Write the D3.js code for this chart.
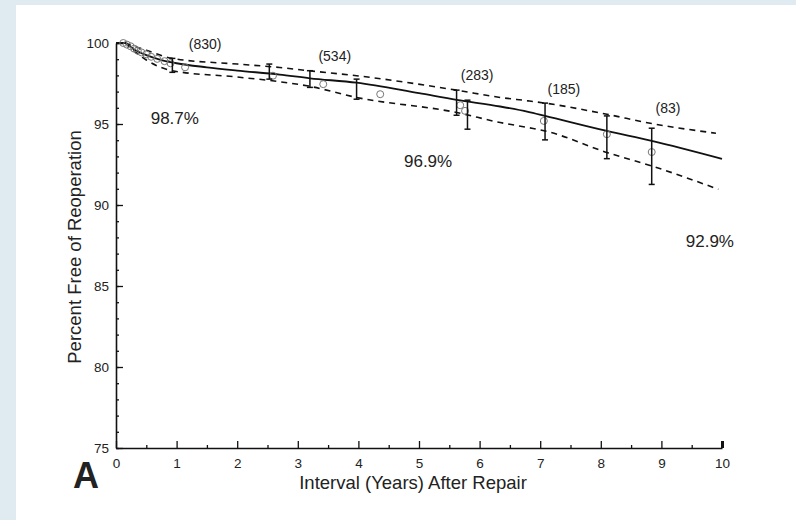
<!DOCTYPE html>
<html>
<head>
<meta charset="utf-8">
<script src="https://cdn.jsdelivr.net/npm/d3@7"></script>
<style>
    body { margin: 0; background: #e0ebf1; }
    svg { display: block; }
    text { font-family: "Liberation Sans", Arial, sans-serif; fill: #222; }
</style>
</head>
<body>
<svg id="chart" width="796" height="520"></svg>
<script>
// estimate curve and its confidence limits (years, percent)
const estimate = [[0, 100], [0.15, 100], [0.3, 99.6], [0.5, 99.25], [0.75, 98.95], [1, 98.75],
    [1.5, 98.5], [2, 98.3], [2.7, 98.05], [3.2, 97.82], [3.97, 97.55], [5, 96.9], [5.62, 96.49],
    [6.34, 96.08], [6.8, 95.75], [7.08, 95.5], [8.1, 94.57], [8.84, 93.96], [10, 92.85]];
const upperLimit = [[0.15, 100], [0.5, 99.55], [0.93, 99.05], [2, 98.7], [2.7, 98.49], [3.15, 98.3],
    [3.97, 97.98], [5.62, 97.09], [6.34, 96.64], [6.8, 96.43], [7.08, 96.29], [8.1, 95.6],
    [8.84, 95.03], [9.9, 94.43]];
const lowerLimit = [[0.15, 100], [0.5, 98.95], [0.93, 98.29], [2, 97.9], [2.7, 97.61], [3.15, 97.36],
    [3.97, 96.64], [5.62, 95.71], [6.34, 95.09], [6.8, 94.78], [7.08, 94.57], [8.1, 93.24],
    [8.84, 92.41], [9.94, 90.97]];

// observed events
const observed = [[0.12, 100], [0.18, 99.9], [0.24, 99.8], [0.3, 99.65], [0.36, 99.52], [0.42, 99.42],
    [0.5, 99.3], [0.58, 99.15], [0.68, 99.02], [0.8, 98.88], [0.9, 98.75], [1.14, 98.5],
    [2.59, 97.98], [3.42, 97.46], [4.36, 96.84], [5.68, 96.16], [5.76, 95.81], [7.06, 95.19],
    [8.1, 94.37], [8.84, 93.27]];
const errorBars = [[0.93, 98.19, 99.05], [2.53, 97.77, 98.7], [3.2, 97.26, 98.29], [3.97, 96.53, 97.77],
    [5.62, 95.54, 97.09], [5.8, 94.68, 96.47], [7.08, 94.02, 96.29], [8.1, 92.86, 95.5],
    [8.84, 91.27, 94.74]];

// patients at risk and survival labels
const atRisk = [[1.47, 99.63, "(830)"], [3.61, 98.89, "(534)"], [5.96, 97.73, "(283)"],
    [7.39, 96.84, "(185)"], [9.11, 95.67, "(83)"]];
const percentLabels = [[0.97, 94.99, "98.7%"], [5.15, 92.37, "96.9%"], [9.8, 87.38, "92.9%"]];

const yMajor = [75, 80, 85, 90, 95, 100];
const yMinor = d3.range(75, 101, 1);
const xMajor = d3.range(0, 11, 1);
const xMinor = d3.range(0.5, 10, 1);

const svg = d3.select("#chart");

svg.append("rect")
    .attr("x", 16).attr("y", 5)
    .attr("width", 780).attr("height", 515)
    .attr("fill", "#fff");

const x = d3.scaleLinear().domain([0, 10]).range([116, 722]);
const y = d3.scaleLinear().domain([75, 100]).range([448, 43]);

// axes
const yAxis = svg.append("g")
    .attr("transform", "translate(" + x(0) + ",0)")
    .call(d3.axisLeft(y).tickValues(yMajor).tickSizeInner(-7).tickSizeOuter(0).tickPadding(7));
svg.append("g")
    .attr("transform", "translate(" + x(0) + ",0)")
    .call(d3.axisLeft(y).tickValues(yMinor).tickSizeInner(-3).tickSizeOuter(0).tickFormat(""))
    .select(".domain").remove();

const xAxis = svg.append("g")
    .attr("transform", "translate(0," + y(75) + ")")
    .call(d3.axisBottom(x).tickValues(xMajor).tickSizeInner(-7).tickSizeOuter(0).tickPadding(10));
svg.append("g")
    .attr("transform", "translate(0," + y(75) + ")")
    .call(d3.axisBottom(x).tickValues(xMinor).tickSizeInner(-3).tickSizeOuter(0).tickFormat(""))
    .select(".domain").remove();

svg.selectAll(".domain").attr("stroke", "#111").attr("stroke-width", 1.6);
svg.selectAll(".tick line").attr("stroke", "#111").attr("stroke-width", 1.3);
svg.selectAll(".tick text").style("font-size", "13.5px").attr("fill", "#222");
yAxis.selectAll(".tick text").attr("dy", "0.35em");

// thick end tick at 10 years
xAxis.selectAll(".tick").filter(function(d) { return d === 10; })
    .select("line").attr("stroke-width", 3);
yAxis.selectAll(".tick").filter(function(d) { return d === 100; })
    .select("line").attr("stroke-width", 1.6);

// curves
const line = d3.line()
    .x(function(d) { return x(d[0]); })
    .y(function(d) { return y(d[1]); })
    .curve(d3.curveMonotoneX);

svg.append("path")
    .datum(upperLimit)
    .attr("d", line)
    .attr("fill", "none")
    .attr("stroke", "#111")
    .attr("stroke-width", 1.6)
    .attr("stroke-dasharray", "6,5");

svg.append("path")
    .datum(lowerLimit)
    .attr("d", line)
    .attr("fill", "none")
    .attr("stroke", "#111")
    .attr("stroke-width", 1.6)
    .attr("stroke-dasharray", "6,5");

svg.append("path")
    .datum(estimate)
    .attr("d", line)
    .attr("fill", "none")
    .attr("stroke", "#111")
    .attr("stroke-width", 1.8);

// observed points
svg.append("g").selectAll("circle")
    .data(observed)
    .join("circle")
    .attr("cx", function(d) { return x(d[0]); })
    .attr("cy", function(d) { return y(d[1]); })
    .attr("r", 3.5)
    .attr("fill", "none")
    .attr("stroke", "#777")
    .attr("stroke-width", 1);

// error bars
const bars = svg.append("g")
    .attr("stroke", "#111")
    .attr("stroke-width", 1.5);

errorBars.forEach(function(b) {
    const bx = x(b[0]);
    bars.append("line")
        .attr("x1", bx).attr("x2", bx)
        .attr("y1", y(b[1])).attr("y2", y(b[2]));
    bars.append("line")
        .attr("x1", bx - 3).attr("x2", bx + 3)
        .attr("y1", y(b[1])).attr("y2", y(b[1]));
    bars.append("line")
        .attr("x1", bx - 3).attr("x2", bx + 3)
        .attr("y1", y(b[2])).attr("y2", y(b[2]));
});

// annotations
svg.append("g").selectAll("text")
    .data(atRisk)
    .join("text")
    .attr("x", function(d) { return x(d[0]); })
    .attr("y", function(d) { return y(d[1]); })
    .attr("text-anchor", "middle")
    .style("font-size", "14px")
    .text(function(d) { return d[2]; });

svg.append("g").selectAll("text")
    .data(percentLabels)
    .join("text")
    .attr("x", function(d) { return x(d[0]); })
    .attr("y", function(d) { return y(d[1]); })
    .attr("text-anchor", "middle")
    .style("font-size", "17px")
    .text(function(d) { return d[2]; });

// titles
svg.append("text")
    .attr("x", 413)
    .attr("y", 489)
    .attr("text-anchor", "middle")
    .style("font-size", "18.5px")
    .text("Interval (Years) After Repair");

svg.append("text")
    .attr("transform", "translate(81,247) rotate(-90)")
    .attr("text-anchor", "middle")
    .style("font-size", "18.5px")
    .text("Percent Free of Reoperation");

svg.append("text")
    .attr("x", 73)
    .attr("y", 488)
    .style("font-size", "36px")
    .style("font-weight", "bold")
    .attr("fill", "#111")
    .text("A");
</script>
</body>
</html>
